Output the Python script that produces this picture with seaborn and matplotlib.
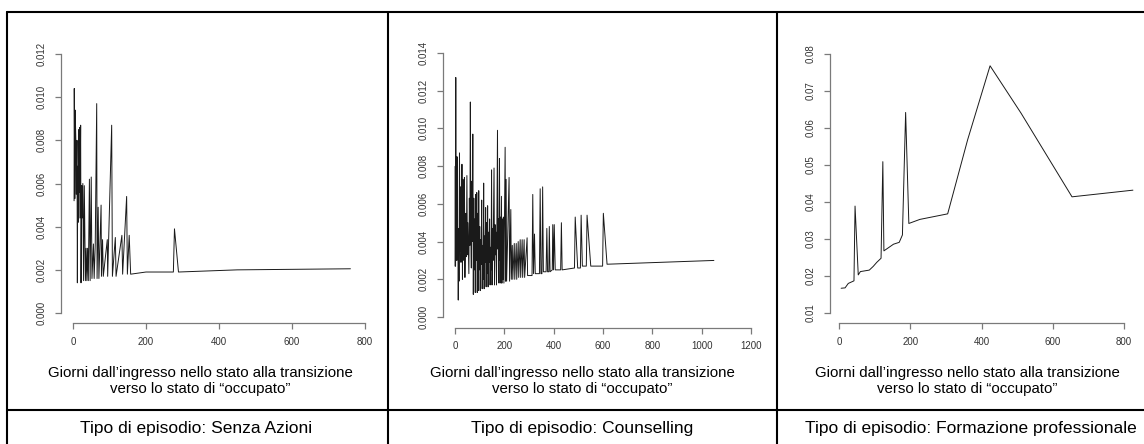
import matplotlib
matplotlib.use("Agg")
import matplotlib.pyplot as plt
import seaborn as sns
import pandas as pd
from matplotlib.lines import Line2D

# --- data ---
senza_giorni = [3, 3.5, 5, 6, 8, 9, 11, 12, 13, 14, 16, 17, 18, 19, 21, 22, 24, 25, 27, 29,
                31, 33, 34, 36, 38, 40, 42, 45, 47, 50, 52, 56, 58, 61, 65, 66, 69, 71, 77, 78,
                81, 83, 94, 95, 106, 108, 116, 118, 134, 136, 147, 149, 154, 158, 200, 275, 278, 289, 450, 760]
senza_hazard = [0.0052, 0.0104, 0.0053, 0.0094, 0.0079, 0.0055, 0.0080, 0.0014, 0.0068, 0.0042,
                0.0085, 0.0056, 0.0086, 0.0044, 0.0087, 0.0014, 0.0059, 0.0044, 0.0060, 0.0015,
                0.0059, 0.0030, 0.0015, 0.0030, 0.0015, 0.0030, 0.0015, 0.0062, 0.0015, 0.0063,
                0.0016, 0.0032, 0.0016, 0.0032, 0.0097, 0.0016, 0.0049, 0.0016, 0.0050, 0.0017,
                0.0034, 0.0017, 0.0034, 0.0017, 0.0087, 0.0017, 0.0035, 0.0017, 0.0036, 0.0018,
                0.0054, 0.0018, 0.0036, 0.0018, 0.0019, 0.0019, 0.0039, 0.0019, 0.0020, 0.00205]

couns_giorni = [0, 1, 2, 3, 4, 5, 6, 7, 8, 10, 12, 13, 15, 16, 18, 20, 22, 24, 26, 28,
                30, 32, 34, 36, 38, 40, 42, 44, 46, 48, 50, 52, 54, 56, 58, 60, 62, 64, 66, 68,
                70, 72, 74, 76, 78, 80, 82, 84, 86, 88, 90, 92, 94, 96, 98, 100, 102, 104, 106, 108,
                110, 112, 114, 116, 118, 120, 122, 124, 126, 128, 130, 132, 134, 136, 138, 140, 142, 144, 146, 148,
                150, 152, 154, 158, 160, 162, 164, 166, 168, 172, 174, 176, 178, 180, 182, 184, 186, 188, 190, 192,
                194, 196, 198, 203, 205, 207, 209, 219, 221, 226, 228, 232, 234, 240, 242, 248, 250, 256, 258, 264,
                266, 272, 274, 280, 282, 292, 294, 312, 315, 318, 322, 325, 342, 345, 348, 352, 355, 358, 369, 372,
                375, 380, 382, 385, 394, 396, 399, 402, 406, 428, 431, 434, 484, 487, 497, 508, 511, 516, 532, 535,
                550, 598, 601, 616, 1049]
couns_hazard = [0.0027, 0.0080, 0.0027, 0.0127, 0.0037, 0.0045, 0.0055, 0.0030, 0.0085, 0.0042,
                0.0030, 0.0009, 0.0047, 0.0019, 0.0087, 0.0035, 0.0069, 0.0029, 0.0048, 0.0081,
                0.0020, 0.0073, 0.0035, 0.0030, 0.0074, 0.0021, 0.0042, 0.0055, 0.0032, 0.0075,
                0.0033, 0.0050, 0.0036, 0.0023, 0.0063, 0.0038, 0.0114, 0.0045, 0.0026, 0.0072,
                0.0040, 0.0097, 0.0012, 0.0063, 0.0025, 0.0052, 0.0013, 0.0065, 0.0030, 0.0066,
                0.0013, 0.0055, 0.0014, 0.0067, 0.0025, 0.0048, 0.0014, 0.0041, 0.0028, 0.0062,
                0.0015, 0.0038, 0.0020, 0.0071, 0.0015, 0.0043, 0.0029, 0.0058, 0.0016, 0.0050,
                0.0023, 0.0059, 0.0016, 0.0045, 0.0029, 0.0052, 0.0017, 0.0037, 0.0025, 0.0078,
                0.0017, 0.0047, 0.0030, 0.0079, 0.0017, 0.0049, 0.0033, 0.0045, 0.0017, 0.0099,
                0.0036, 0.0052, 0.0018, 0.0084, 0.0030, 0.0053, 0.0018, 0.0064, 0.0018, 0.0052,
                0.0020, 0.0053, 0.0018, 0.0090, 0.0019, 0.0073, 0.0019, 0.0074, 0.0019, 0.0057,
                0.0020, 0.0038, 0.0020, 0.0039, 0.0020, 0.0039, 0.0020, 0.0040, 0.0021, 0.0041,
                0.0021, 0.0041, 0.0021, 0.0041, 0.0021, 0.0042, 0.0022, 0.0022, 0.0065, 0.0023,
                0.0044, 0.0023, 0.0023, 0.0068, 0.0023, 0.0023, 0.0069, 0.0024, 0.0024, 0.0047,
                0.0024, 0.0024, 0.0048, 0.0024, 0.0025, 0.0049, 0.0025, 0.0049, 0.0025, 0.0025,
                0.0050, 0.0025, 0.0026, 0.0053, 0.0026, 0.0026, 0.0054, 0.0027, 0.0027, 0.0054,
                0.0027, 0.0027, 0.0055, 0.0028, 0.0030]

form_giorni = [6, 17, 26, 42, 45, 54, 60, 85, 96, 106, 118, 123, 126, 153, 169, 178, 187, 196,
               227, 305, 361, 424, 511, 654, 825]
form_hazard = [0.0167, 0.0168, 0.0180, 0.0187, 0.0389, 0.0203, 0.0212, 0.0216, 0.0226, 0.0237,
               0.0248, 0.0509, 0.0268, 0.0286, 0.0291, 0.0311, 0.0642, 0.0342, 0.0353, 0.0368,
               0.0568, 0.0768, 0.0640, 0.0414, 0.0432]

senza_xticks = [0, 200, 400, 600, 800]
senza_yticks = [0.000, 0.002, 0.004, 0.006, 0.008, 0.010, 0.012]
senza_ylabels = ["0.000", "0.002", "0.004", "0.006", "0.008", "0.010", "0.012"]
couns_xticks = [0, 200, 400, 600, 800, 1000, 1200]
couns_yticks = [0.000, 0.002, 0.004, 0.006, 0.008, 0.010, 0.012, 0.014]
couns_ylabels = ["0.000", "0.002", "0.004", "0.006", "0.008", "0.010", "0.012", "0.014"]
form_xticks = [0, 200, 400, 600, 800]
form_yticks = [0.01, 0.02, 0.03, 0.04, 0.05, 0.06, 0.07, 0.08]
form_ylabels = ["0.01", "0.02", "0.03", "0.04", "0.05", "0.06", "0.07", "0.08"]

xlabel = "Giorni dall\u2019ingresso nello stato alla transizione\nverso lo stato di \u201coccupato\u201d"
captions = ["Tipo di episodio: Senza Azioni",
            "Tipo di episodio: Counselling",
            "Tipo di episodio: Formazione professionale"]

sns.set_theme(style="white")
plt.rcParams["font.family"] = ["Liberation Sans", "DejaVu Sans"]

W, H = 1144, 444
fig = plt.figure(figsize=(W / 100, H / 100), dpi=100)


def box(left, right, top, bottom):
    return [left / W, 1 - bottom / H, (right - left) / W, (bottom - top) / H]


panels = [
    dict(x=senza_giorni, y=senza_hazard, xt=senza_xticks, yt=senza_yticks, yl=senza_ylabels,
         pos=box(61.3, 376.7, 43.6, 323.4), xlim=(-32, 832), ylim=(-0.00048, 0.01248)),
    dict(x=couns_giorni, y=couns_hazard, xt=couns_xticks, yt=couns_yticks, yl=couns_ylabels,
         pos=box(443.2, 763, 42.4, 327.6), xlim=(-48, 1248), ylim=(-0.00056, 0.01456)),
    dict(x=form_giorni, y=form_hazard, xt=form_xticks, yt=form_yticks, yl=form_ylabels,
         pos=box(830, 1144, 43.6, 323.4), xlim=(-25.3, 856.1), ylim=(0.0072, 0.0828)),
]

axis_col = "#7a7a7a"
for p in panels:
    ax = fig.add_axes(p["pos"])
    df = pd.DataFrame({"giorni": p["x"], "hazard": p["y"]})
    sns.lineplot(data=df, x="giorni", y="hazard", ax=ax, color="#1a1a1a",
                 linewidth=0.7, estimator=None, sort=False)
    ax.set_xticks(p["xt"])
    ax.set_xticklabels([str(t) for t in p["xt"]])
    ax.set_yticks(p["yt"])
    ax.set_yticklabels(p["yl"], rotation=90, va="center")
    ax.set_xlim(*p["xlim"])
    ax.set_ylim(*p["ylim"])
    ax.set_xlabel("")
    ax.set_ylabel("")
    ax.patch.set_alpha(0)
    for s in ["top", "right"]:
        ax.spines[s].set_visible(False)
    ax.spines["left"].set_bounds(p["yt"][0], p["yt"][-1])
    ax.spines["bottom"].set_bounds(p["xt"][0], p["xt"][-1])
    for s in ["left", "bottom"]:
        ax.spines[s].set_color(axis_col)
        ax.spines[s].set_linewidth(0.9)
    ax.tick_params(axis="both", which="major", direction="out", length=4.5, width=0.9,
                   color=axis_col, labelcolor="#333333", labelsize=7)
    ax.tick_params(axis="y", pad=6, left=True)
    ax.tick_params(axis="x", pad=5, bottom=True)

# text in the table cells
for cx in [200, 582, 967]:
    fig.text(cx / W, 1 - 381 / H, xlabel, ha="center", va="center", fontsize=10.8,
             linespacing=1.2, color="black")
for cx, cap in zip([196, 582, 971], captions):
    fig.text(cx / W, 1 - 428 / H, cap, ha="center", va="center", fontsize=12.5, color="black")

# table borders
def rule(x0, y0, x1, y1):
    fig.add_artist(Line2D([x0 / W, x1 / W], [1 - y0 / H, 1 - y1 / H],
                          transform=fig.transFigure, color="black", linewidth=1.5))

rule(7, 12, W, 12)
rule(7, 410, W, 410)
rule(7, 12, 7, H)
rule(388, 12, 388, H)
rule(777, 12, 777, H)

fig.savefig("out.png", dpi=100)
